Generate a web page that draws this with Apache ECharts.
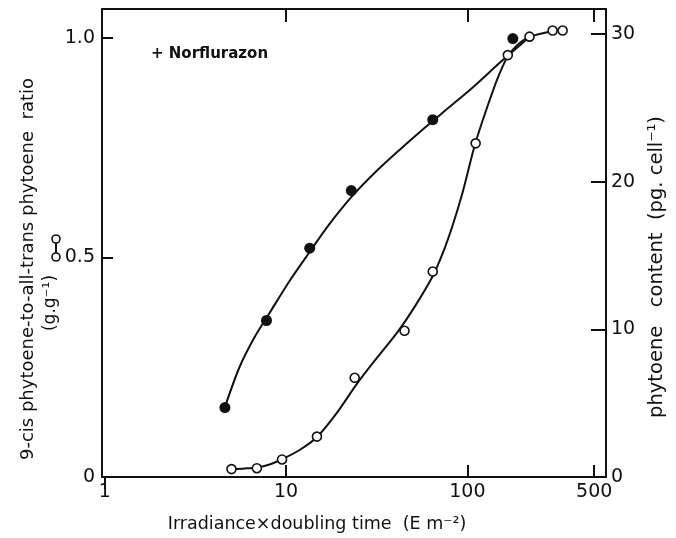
<!DOCTYPE html>
<html>
<head>
<meta charset="utf-8">
<script src="https://cdn.jsdelivr.net/npm/echarts@6/dist/echarts.min.js"></script>
<style>
  html, body { margin: 0; padding: 0; background: #fff; }
  #chart { width: 676px; height: 538px; }
</style>
</head>
<body>
<div id="chart"></div>
<script>
// measured points: filled circles = phytoene content (right axis)
const filledX = [4.6, 7.8, 13.5, 22.9, 64.4, 178];
const filledY = [4.7, 10.6, 15.5, 19.4, 24.2, 29.7];
// open circles = 9-cis / all-trans ratio (left axis)
const openX = [5.0, 6.9, 9.5, 14.8, 23.9, 45, 64.4, 111, 167, 220, 295, 335];
const openY = [0.018, 0.020, 0.040, 0.092, 0.226, 0.333, 0.468, 0.760, 0.961, 1.003, 1.017, 1.017];
// hand-drawn fitted curves
const filledCurveX = [4.58, 5.54, 6.71, 8.11, 10.45, 13.48, 17.37, 22.95, 30.73, 42.2, 57.96, 79.6, 109.3, 150.1, 181.6, 219.6];
const filledCurveY = [4.67, 7.45, 9.48, 11.11, 13.28, 15.24, 17.14, 18.97, 20.59, 22.15, 23.64, 25.06, 26.49, 28.04, 28.92, 29.80];
const openCurveX = [5.0, 5.91, 6.87, 8.11, 9.56, 11.87, 14.72, 18.97, 24.46, 31.51, 41.15, 51.05, 64.1, 72.85, 82.68, 93.87, 110.7, 135.6, 150.1, 166.1, 188.6, 219.6, 295];
const openCurveY = [0.018, 0.0194, 0.0216, 0.0285, 0.041, 0.0615, 0.0900, 0.1450, 0.2110, 0.2700, 0.330, 0.387, 0.4560, 0.508, 0.5718, 0.6469, 0.7608, 0.870, 0.918, 0.9567, 0.984, 1.0023, 1.016];
// tick labels
const xTicks = [1, 10, 100, 500];
const leftTicks = [0, 0.5, 1];
const rightTicks = [0, 10, 20, 30];

const xMin = 0.966, xMax = 581;
const font = 'DejaVu Sans';
const ink = '#111';

function pairs (xs, ys) {
  return xs.map((x, i) => [x, ys[i]]);
}

var chart = echarts.init(document.getElementById('chart'));

// value axes in log10 space, used only to draw ticks/labels where the figure has them
function tickAxis (position, tickVals, labelVals, inside, len, withLine) {
  return {
    type: 'value',
    position: position,
    min: Math.log10(xMin),
    max: Math.log10(xMax),
    splitLine: {show: false},
    axisLine: {show: withLine, onZero: false, lineStyle: {color: ink, width: 2}},
    axisTick: {show: tickVals.length > 0, inside: inside, length: len,
      customValues: tickVals.map(v => Math.log10(v)), lineStyle: {color: ink, width: 2}},
    axisLabel: {show: labelVals.length > 0, customValues: labelVals.map(v => Math.log10(v)),
      formatter: v => String(Math.round(Math.pow(10, v))),
      color: ink, fontFamily: font, fontSize: 19, margin: 6}
  };
}

var option = {
  animation: false,
  backgroundColor: '#fff',
  title: {
    text: '+ Norflurazon', left: 146, top: 42,
    textStyle: {fontFamily: font, fontSize: 15, fontWeight: 'bold', color: ink}
  },
  grid: {left: 102, right: 70, top: 9, bottom: 61},
  xAxis: [
    {type: 'log', logBase: 10, min: xMin, max: xMax, position: 'bottom',
      axisLine: {show: false, onZero: false}, axisTick: {show: false}, axisLabel: {show: false}, splitLine: {show: false}},
    Object.assign(tickAxis('bottom', [10, 100, 500], xTicks, true, 12, true), {
      name: 'Irradiance\u00d7doubling time  (E m\u207b\u00b2)', nameLocation: 'middle', nameGap: 38,
      nameTextStyle: {fontFamily: font, fontSize: 17.5, color: ink, padding: [0, 74, 0, 0]}
    }),
    tickAxis('bottom', [1], [], false, 12, false),
    tickAxis('top', [10, 100, 500], [], true, 13, true)
  ],
  yAxis: [
    {type: 'value', min: 0, max: 1.066, position: 'left',
      splitLine: {show: false},
      axisLine: {show: true, onZero: false, lineStyle: {color: ink, width: 2}},
      axisTick: {inside: true, length: 11, customValues: leftTicks, lineStyle: {color: ink, width: 2}},
      axisLabel: {customValues: leftTicks, formatter: v => v === 0 ? '0' : v.toFixed(1),
        color: ink, fontFamily: font, fontSize: 19, margin: 7}},
    {type: 'value', min: 0, max: 31.7, position: 'right',
      splitLine: {show: false},
      axisLine: {show: true, onZero: false, lineStyle: {color: ink, width: 2}},
      axisTick: {inside: true, length: 15, customValues: rightTicks, lineStyle: {color: ink, width: 2}},
      axisLabel: {customValues: rightTicks, color: ink, fontFamily: font, fontSize: 19, margin: 5}}
  ],
  graphic: [
    {type: 'text', x: 28, y: 269, rotation: Math.PI / 2,
      style: {text: '9-cis phytoene-to-all-trans phytoene  ratio', fontFamily: font, fontSize: 18,
        fill: ink, align: 'center', verticalAlign: 'middle'}},
    {type: 'text', x: 51, y: 303, rotation: Math.PI / 2,
      style: {text: '(g.g\u207b\u00b9)', fontFamily: font, fontSize: 17, fill: ink,
        align: 'center', verticalAlign: 'middle'}},
    {type: 'line', shape: {x1: 56, y1: 239, x2: 56, y2: 257}, style: {stroke: ink, lineWidth: 2}},
    {type: 'circle', shape: {cx: 56, cy: 239, r: 4}, style: {fill: '#fff', stroke: ink, lineWidth: 1.6}},
    {type: 'circle', shape: {cx: 56, cy: 257, r: 4}, style: {fill: '#fff', stroke: ink, lineWidth: 1.6}},
    {type: 'text', x: 657, y: 267, rotation: Math.PI / 2,
      style: {text: 'phytoene   content  (pg. cell\u207b\u00b9)', fontFamily: font, fontSize: 19.5, fill: ink,
        align: 'center', verticalAlign: 'middle'}}
  ],
  series: [
    {type: 'line', xAxisIndex: 0, yAxisIndex: 1, data: pairs(filledCurveX, filledCurveY),
      smooth: 0.3, showSymbol: false, lineStyle: {color: ink, width: 2}, z: 2},
    {type: 'line', xAxisIndex: 0, yAxisIndex: 0, data: pairs(openCurveX, openCurveY),
      smooth: 0.3, showSymbol: false, lineStyle: {color: ink, width: 2}, z: 2},
    {type: 'scatter', xAxisIndex: 0, yAxisIndex: 1, data: pairs(filledX, filledY),
      symbol: 'circle', symbolSize: 11, itemStyle: {color: ink, opacity: 1}, z: 3},
    {type: 'scatter', xAxisIndex: 0, yAxisIndex: 0, data: pairs(openX, openY),
      symbol: 'circle', symbolSize: 9, itemStyle: {color: '#fff', borderColor: ink, borderWidth: 1.6, opacity: 1}, z: 4}
  ]
};

chart.setOption(option);
</script>
</body>
</html>
